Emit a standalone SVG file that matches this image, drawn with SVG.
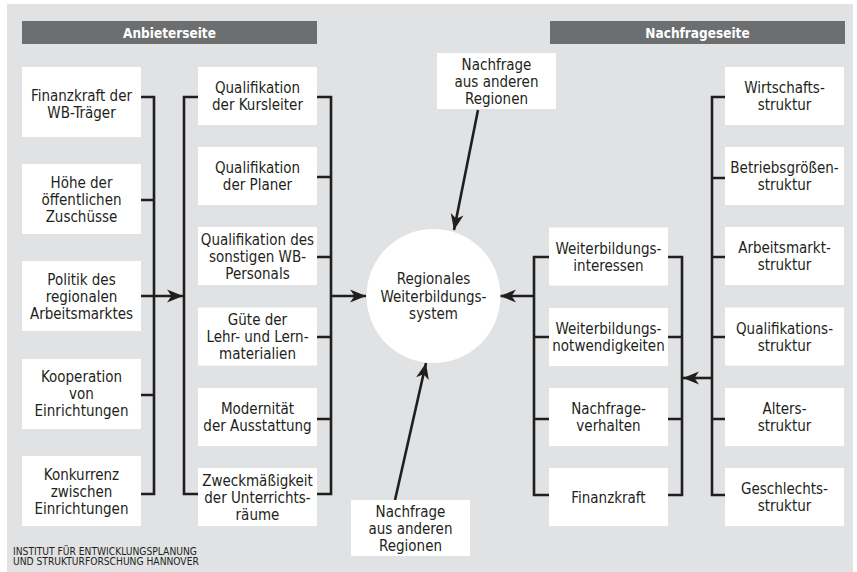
<svg xmlns="http://www.w3.org/2000/svg" width="857" height="572" viewBox="0 0 857 572">
<defs>
<marker id="ah" markerUnits="userSpaceOnUse" markerWidth="17" markerHeight="13" refX="16" refY="6.5" orient="auto" overflow="visible">
<path d="M0,0 L16,6.5 L0,13 L4.5,6.5 Z" fill="#1f1f1f"/>
</marker>
<style>
.bg{fill:#e1e2e4}
.hd{fill:#6d6e70}
.bx{fill:#ffffff}
.t{font-family:'Liberation Sans Narrow','Arial Narrow','DejaVu Sans Condensed','Liberation Sans',sans-serif;font-stretch:condensed;font-size:15px;text-anchor:middle;fill:#231f20}
.h{font-family:'Liberation Sans Narrow','Arial Narrow','DejaVu Sans Condensed','Liberation Sans',sans-serif;font-stretch:condensed;font-size:13.5px;font-weight:bold;text-anchor:middle;fill:#ffffff}
.f{font-family:'Liberation Sans Narrow','Arial Narrow','DejaVu Sans Condensed','Liberation Sans',sans-serif;font-stretch:condensed;font-size:10.2px;fill:#231f20}
.ln{fill:none;stroke:#1f1f1f;stroke-width:2.6}
.ar{fill:none;stroke:#1f1f1f;stroke-width:2.6;marker-end:url(#ah)}
</style>
</defs>
<rect class="bg" x="7" y="4" width="846" height="568"/>
<g id="header-anbieter"><rect class="hd" x="22" y="21" width="295" height="23"/><text class="h" x="169.5" y="38">Anbieterseite</text></g>
<g id="header-nachfrage"><rect class="hd" x="550" y="21" width="295" height="23"/><text class="h" x="697.5" y="38">Nachfrageseite</text></g>

<g id="connectors">
<path class="ln" d="M141,97 H154 V494 H141 M141,200 H154 M141,395 H154"/>
<path class="ar" d="M141,296 H183"/>
<path class="ln" d="M198,97 H184 V494 H198"/>
<path class="ln" d="M317,97 H331 V494 H317 M317,177 H331 M317,257 H331 M317,337 H331 M317,419 H331"/>
<path class="ar" d="M331,296 H366"/>
<path class="ln" d="M549,257 H534 V495 H549 M549,337 H534 M549,419 H534"/>
<path class="ar" d="M534,296 H500"/>
<path class="ln" d="M668,257 H682 V495 H668 M668,337 H682 M668,419 H682"/>
<path class="ln" d="M725,97 H712 V495 H725 M725,178 H712 M725,257 H712 M725,337 H712 M725,419 H712"/>
<path class="ar" d="M712,378 H683"/>
<path class="ar" d="M478,110 L454,230"/>
<path class="ar" d="M395,500 L426,363"/>
</g>

<g id="a1"><rect class="bx" x="22" y="67" width="119" height="70"/><text class="t" x="81.5" y="100.5">Finanzkraft der</text><text class="t" x="81.5" y="117.5">WB-Träger</text></g>
<g id="a2"><rect class="bx" x="22" y="164" width="119" height="70"/><text class="t" x="81.5" y="187.5">Höhe der</text><text class="t" x="81.5" y="204.5">öffentlichen</text><text class="t" x="81.5" y="221.5">Zuschüsse</text></g>
<g id="a3"><rect class="bx" x="22" y="261" width="119" height="70"/><text class="t" x="81.5" y="284.5">Politik des</text><text class="t" x="81.5" y="301.5">regionalen</text><text class="t" x="81.5" y="318.5">Arbeitsmarktes</text></g>
<g id="a4"><rect class="bx" x="22" y="359" width="119" height="70"/><text class="t" x="81.5" y="381.5">Kooperation</text><text class="t" x="81.5" y="398.5">von</text><text class="t" x="81.5" y="415.5">Einrichtungen</text></g>
<g id="a5"><rect class="bx" x="22" y="456" width="119" height="70"/><text class="t" x="81.5" y="479.5">Konkurrenz</text><text class="t" x="81.5" y="496.5">zwischen</text><text class="t" x="81.5" y="513.5">Einrichtungen</text></g>

<g id="b1"><rect class="bx" x="198" y="67" width="119" height="58"/><text class="t" x="257.5" y="93">Qualifikation</text><text class="t" x="257.5" y="110">der Kursleiter</text></g>
<g id="b2"><rect class="bx" x="198" y="147" width="119" height="58"/><text class="t" x="257.5" y="173">Qualifikation</text><text class="t" x="257.5" y="190">der Planer</text></g>
<g id="b3"><rect class="bx" x="198" y="227" width="119" height="58"/><text class="t" x="257.5" y="244.5">Qualifikation des</text><text class="t" x="257.5" y="261.5">sonstigen WB-</text><text class="t" x="257.5" y="278.5">Personals</text></g>
<g id="b4"><rect class="bx" x="198" y="307.5" width="119" height="58"/><text class="t" x="257.5" y="325">Güte der</text><text class="t" x="257.5" y="342">Lehr- und Lern-</text><text class="t" x="257.5" y="359">materialien</text></g>
<g id="b5"><rect class="bx" x="198" y="388" width="119" height="58"/><text class="t" x="257.5" y="414">Modernität</text><text class="t" x="257.5" y="431">der Ausstattung</text></g>
<g id="b6"><rect class="bx" x="198" y="468" width="119" height="58"/><text class="t" x="257.5" y="485.5">Zweckmäßigkeit</text><text class="t" x="257.5" y="502.5">der Unterrichts-</text><text class="t" x="257.5" y="519.5">räume</text></g>

<g id="center"><circle class="bx" cx="433.5" cy="296" r="67"/><text class="t" x="433.5" y="284">Regionales</text><text class="t" x="433.5" y="301.5">Weiterbildungs-</text><text class="t" x="433.5" y="319">system</text></g>

<g id="n-top"><rect class="bx" x="437" y="53" width="119" height="56"/><text class="t" x="496.5" y="70">Nachfrage</text><text class="t" x="496.5" y="87">aus anderen</text><text class="t" x="496.5" y="104">Regionen</text></g>
<g id="n-bottom"><rect class="bx" x="351" y="500" width="119" height="56"/><text class="t" x="410.5" y="516.5">Nachfrage</text><text class="t" x="410.5" y="533.5">aus anderen</text><text class="t" x="410.5" y="550.5">Regionen</text></g>

<g id="c1"><rect class="bx" x="549" y="227.5" width="119" height="58"/><text class="t" x="608.5" y="253.5">Weiterbildungs-</text><text class="t" x="608.5" y="270.5">interessen</text></g>
<g id="c2"><rect class="bx" x="549" y="308" width="119" height="58"/><text class="t" x="608.5" y="334">Weiterbildungs-</text><text class="t" x="608.5" y="351">notwendigkeiten</text></g>
<g id="c3"><rect class="bx" x="549" y="388" width="119" height="58"/><text class="t" x="608.5" y="414">Nachfrage-</text><text class="t" x="608.5" y="431">verhalten</text></g>
<g id="c4"><rect class="bx" x="549" y="468" width="119" height="58"/><text class="t" x="608.5" y="502.5">Finanzkraft</text></g>

<g id="d1"><rect class="bx" x="725" y="67" width="119" height="58"/><text class="t" x="784.5" y="93">Wirtschafts-</text><text class="t" x="784.5" y="110">struktur</text></g>
<g id="d2"><rect class="bx" x="725" y="147" width="119" height="58"/><text class="t" x="784.5" y="173">Betriebsgrößen-</text><text class="t" x="784.5" y="190">struktur</text></g>
<g id="d3"><rect class="bx" x="725" y="227" width="119" height="58"/><text class="t" x="784.5" y="253">Arbeitsmarkt-</text><text class="t" x="784.5" y="270">struktur</text></g>
<g id="d4"><rect class="bx" x="725" y="307.5" width="119" height="58"/><text class="t" x="784.5" y="333.5">Qualifikations-</text><text class="t" x="784.5" y="350.5">struktur</text></g>
<g id="d5"><rect class="bx" x="725" y="388" width="119" height="58"/><text class="t" x="784.5" y="414">Alters-</text><text class="t" x="784.5" y="431">struktur</text></g>
<g id="d6"><rect class="bx" x="725" y="468" width="119" height="58"/><text class="t" x="784.5" y="494">Geschlechts-</text><text class="t" x="784.5" y="511">struktur</text></g>

<g id="footer"><text class="f" x="13" y="554.5">INSTITUT FÜR ENTWICKLUNGSPLANUNG</text><text class="f" x="13" y="564.5">UND STRUKTURFORSCHUNG HANNOVER</text></g>
</svg>
